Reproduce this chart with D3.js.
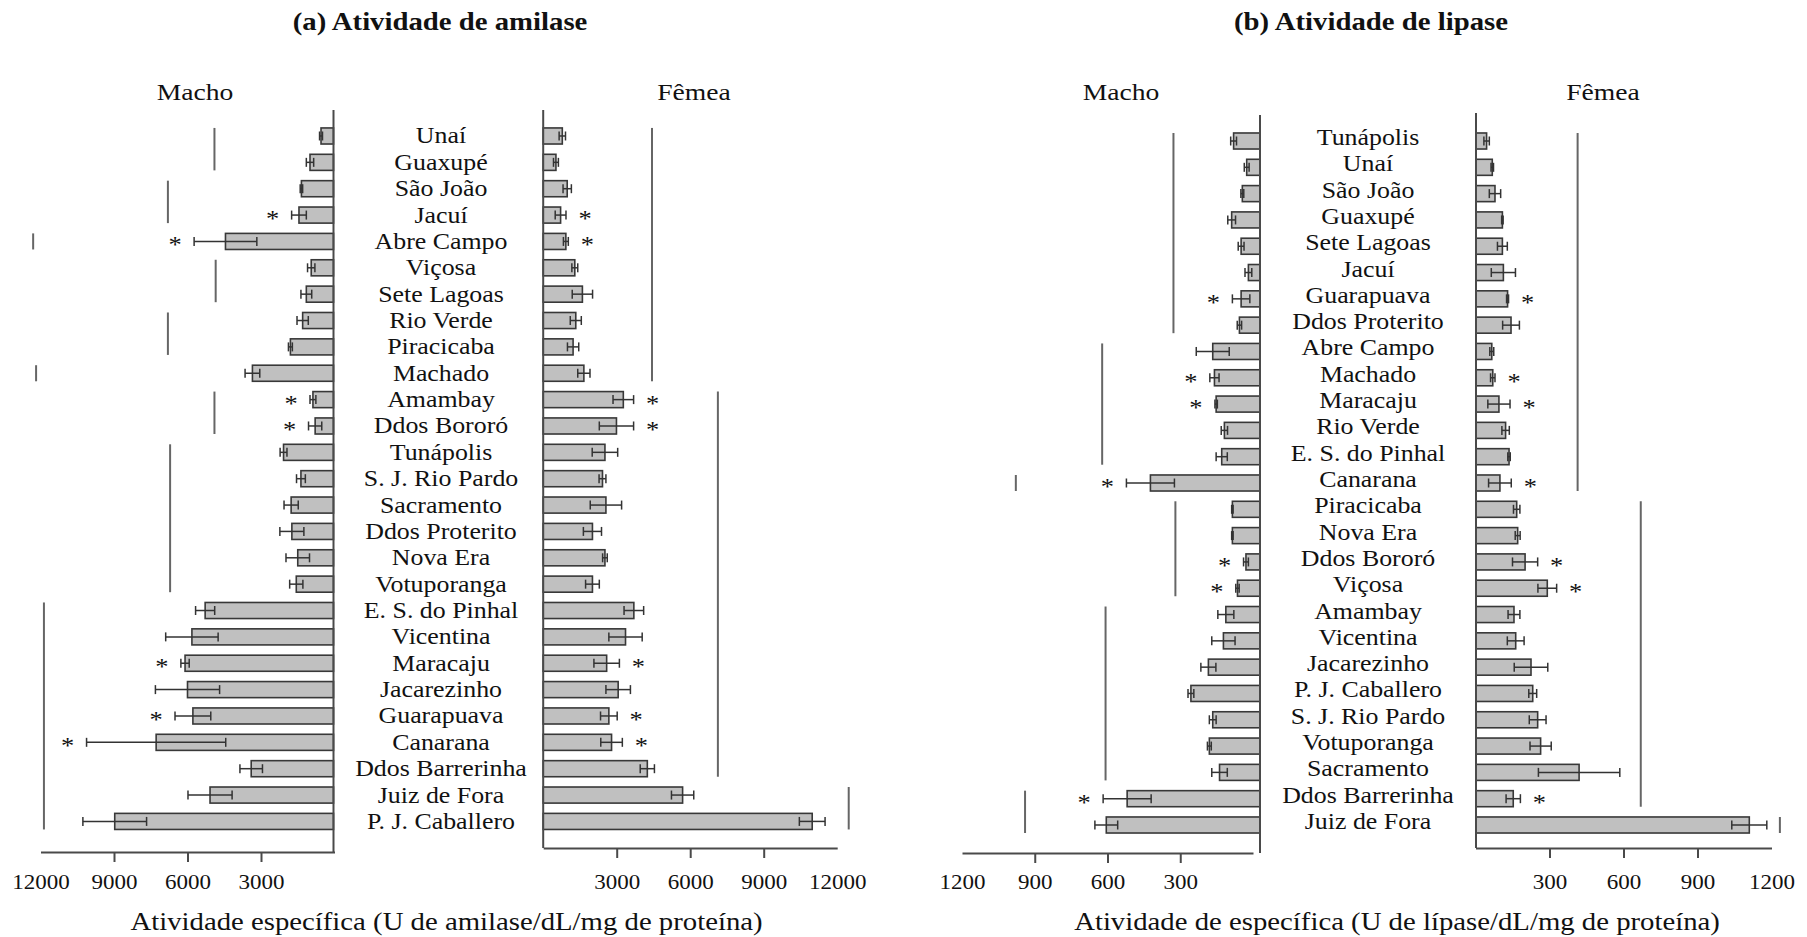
<!DOCTYPE html>
<html>
<head>
<meta charset="utf-8">
<script src="https://cdn.jsdelivr.net/npm/d3@7"></script>
<style>
  html, body { margin: 0; padding: 0; background: #fff; }
  svg { display: block; }
</style>
</head>
<body>
<svg id="chart" width="1807" height="937"></svg>
<script>
// ---------------- DATA ----------------
const amyCats = ["Unaí","Guaxupé","São João","Jacuí","Abre Campo","Viçosa","Sete Lagoas","Rio Verde","Piracicaba","Machado","Amambay","Ddos Bororó","Tunápolis","S. J. Rio Pardo","Sacramento","Ddos Proterito","Nova Era","Votuporanga","E. S. do Pinhal","Vicentina","Maracaju","Jacarezinho","Guarapuava","Canarana","Ddos Barrerinha","Juiz de Fora","P. J. Caballero"];
const amyMale    = [550,1000,1350,1450,4450,950,1150,1300,1800,3350,880,790,2080,1370,1770,1740,1500,1560,5280,5820,6100,6000,5780,7280,3400,5080,8970];
const amyMaleErr = [60,150,50,300,1280,150,220,230,80,300,120,270,140,180,290,490,480,270,390,1070,170,1310,730,2840,460,900,1300];
const amyFemale    = [780,520,980,710,925,1290,1600,1330,1220,1660,3270,2990,2520,2420,2560,2010,2520,2010,3700,3360,2590,3060,2680,2790,4250,5690,10980];
const amyFemaleErr = [130,100,170,220,100,120,415,225,230,250,420,700,520,140,640,370,95,280,400,680,520,500,340,440,290,455,525];
const amySigMale   = ["Jacuí","Abre Campo","Amambay","Ddos Bororó","Maracaju","Guarapuava","Canarana"];
const amySigFemale = ["Jacuí","Abre Campo","Amambay","Ddos Bororó","Maracaju","Guarapuava","Canarana"];
// groups: [first category, last category, value where the group line sits]
const amyGroupsMale = [["Unaí","Guaxupé",4900],["São João","Jacuí",6800],["Abre Campo","Abre Campo",12300],["Viçosa","Sete Lagoas",4850],["Rio Verde","Piracicaba",6800],["Machado","Machado",12180],["Amambay","Ddos Bororó",4900],["Tunápolis","Votuporanga",6710],["E. S. do Pinhal","P. J. Caballero",11860]];
const amyGroupsFemale = [["Unaí","Machado",4440],["Amambay","Ddos Barrerinha",7130],["Juiz de Fora","P. J. Caballero",12470]];
const amyTicks = [3000,6000,9000,12000];

const lipCats = ["Tunápolis","Unaí","São João","Guaxupé","Sete Lagoas","Jacuí","Guarapuava","Ddos Proterito","Abre Campo","Machado","Maracaju","Rio Verde","E. S. do Pinhal","Canarana","Piracicaba","Nova Era","Ddos Bororó","Viçosa","Amambay","Vicentina","Jacarezinho","P. J. Caballero","S. J. Rio Pardo","Votuporanga","Sacramento","Ddos Barrerinha","Juiz de Fora"];
const lipMale    = [80,26,44,88,49,19,49,56,166,159,152,118,129,423,85,85,29,64,112,122,184,256,166,180,138,519,605];
const lipMaleErr = [12,10,6,16,12,14,36,9,68,19,5,13,23,99,3,3,10,7,33,48,31,12,14,8,32,99,47];
const lipFemale    = [45,68,79,109,109,113,130,144,66,70,95,122,136,99,167,171,201,291,156,163,225,232,252,264,420,153,1110];
const lipFemaleErr = [11,5,23,3,20,49,4,34,8,9,45,15,5,46,13,10,51,38,24,34,68,16,34,43,165,29,71];
const lipSigMale   = ["Guarapuava","Machado","Maracaju","Canarana","Ddos Bororó","Viçosa","Ddos Barrerinha"];
const lipSigFemale = ["Guarapuava","Machado","Maracaju","Canarana","Ddos Bororó","Viçosa","Ddos Barrerinha"];
const lipGroupsMale = [["Tunápolis","Ddos Proterito",328],["Abre Campo","E. S. do Pinhal",622],["Canarana","Canarana",978],["Piracicaba","Viçosa",320],["Amambay","Sacramento",608],["Ddos Barrerinha","Juiz de Fora",940]];
const lipGroupsFemale = [["Tunápolis","Canarana",414],["Piracicaba","Ddos Barrerinha",670],["Juiz de Fora","Juiz de Fora",1234]];
const lipTicks = [300,600,900,1200];

// ---------------- DRAWING ----------------
const svg = d3.select("#chart");
const FONT = "'Liberation Serif','Times New Roman',Times,serif";
const SX = 1.15; // horizontal stretch of the original figure

function addText(x, y, str, size, weight) {
  svg.append("text")
    .attr("transform", `translate(${x},${y}) scale(${SX},1)`)
    .attr("text-anchor", "middle")
    .attr("font-family", FONT)
    .attr("font-size", size)
    .attr("font-weight", weight || "normal")
    .attr("fill", "#111")
    .text(str);
}

function drawSide(cfg) {
  const { cats, vals, errs, sig, groups, x, y, dir, baseX, axisY, axisTop, ticks, lastNoTick } = cfg;
  const g = svg.append("g");
  const bw = y.bandwidth();

  // group lines
  g.selectAll("line.grp").data(groups).join("line")
    .attr("x1", d => x(d[2])).attr("x2", d => x(d[2]))
    .attr("y1", d => y(d[0])).attr("y2", d => y(d[1]) + bw)
    .attr("stroke", "#666").attr("stroke-width", 2);

  // bars
  const data = cats.map((c, i) => ({ c, v: vals[i], e: errs[i] }));
  g.selectAll("rect.bar").data(data).join("rect")
    .attr("x", d => Math.min(baseX, x(d.v)))
    .attr("width", d => Math.abs(baseX - x(d.v)))
    .attr("y", d => y(d.c))
    .attr("height", bw)
    .attr("fill", "#c0c0c0")
    .attr("stroke", "#383838")
    .attr("stroke-width", 1.6);

  // error bars
  const eg = g.selectAll("g.err").data(data).join("g")
    .attr("stroke", "#333").attr("stroke-width", 1.5);
  eg.append("line")
    .attr("x1", d => x(d.v - d.e)).attr("x2", d => x(d.v + d.e))
    .attr("y1", d => y(d.c) + bw / 2).attr("y2", d => y(d.c) + bw / 2);
  eg.append("line")
    .attr("x1", d => x(d.v - d.e)).attr("x2", d => x(d.v - d.e))
    .attr("y1", d => y(d.c) + bw / 2 - 4.5).attr("y2", d => y(d.c) + bw / 2 + 4.5);
  eg.append("line")
    .attr("x1", d => x(d.v + d.e)).attr("x2", d => x(d.v + d.e))
    .attr("y1", d => y(d.c) + bw / 2 - 4.5).attr("y2", d => y(d.c) + bw / 2 + 4.5);

  // significance stars
  data.filter(d => sig.includes(d.c)).forEach(d => {
    addText(x(d.v + d.e) + dir * 19, y(d.c) + bw / 2 + 11, "*", 23);
  });

  // vertical axis line
  g.append("line")
    .attr("x1", baseX).attr("x2", baseX)
    .attr("y1", axisTop).attr("y2", axisY)
    .attr("stroke", "#4a4a4a").attr("stroke-width", 2);

  // horizontal axis
  const ax = svg.append("g").attr("transform", `translate(0,${axisY})`)
    .call(d3.axisBottom(x).tickValues(ticks).tickSize(10).tickSizeOuter(0).tickFormat(d3.format("d")));
  ax.select(".domain").attr("stroke", "#4a4a4a").attr("stroke-width", 2);
  ax.selectAll(".tick line").attr("stroke", "#4a4a4a").attr("stroke-width", 2)
    .filter(d => d === lastNoTick).remove();
  ax.selectAll(".tick text")
    .attr("y", 889 - axisY).attr("dy", 0)
    .attr("transform", `scale(${SX},1)`)
    .attr("font-family", FONT).attr("font-size", 20).attr("fill", "#111");
}

// ---- panel (a) amylase ----
const amyY = d3.scaleBand().domain(amyCats).range([122.8, 834.6]).paddingInner(0.39).paddingOuter(0.195);
const amyXM = d3.scaleLinear().domain([0, 12000]).range([334.5, 40.5]);
const amyXF = d3.scaleLinear().domain([0, 12000]).range([543.2, 837.2]);

drawSide({ cats: amyCats, vals: amyMale, errs: amyMaleErr, sig: amySigMale, groups: amyGroupsMale,
  x: amyXM, y: amyY, dir: -1, baseX: 333.5, axisY: 852, axisTop: 110, ticks: amyTicks, lastNoTick: 12000 });
drawSide({ cats: amyCats, vals: amyFemale, errs: amyFemaleErr, sig: amySigFemale, groups: amyGroupsFemale,
  x: amyXF, y: amyY, dir: 1, baseX: 543.2, axisY: 848, axisTop: 110, ticks: amyTicks, lastNoTick: 12000 });

amyCats.forEach(c => addText(441, amyY(c) + amyY.bandwidth() / 2 + 7.5, c, 22.5));
addText(440, 30, "(a) Atividade de amilase", 25, "bold");
addText(195, 100, "Macho", 24);
addText(694, 100, "Fêmea", 24);
addText(446.5, 930, "Atividade específica (U de amilase/dL/mg de proteína)", 25);

// ---- panel (b) lipase ----
const lipY = d3.scaleBand().domain(lipCats).range([127.85, 838.15]).paddingInner(0.39).paddingOuter(0.195);
const lipXM = d3.scaleLinear().domain([0, 1200]).range([1253, 962]);
const lipXF = d3.scaleLinear().domain([0, 1200]).range([1475.5, 1771.5]);

drawSide({ cats: lipCats, vals: lipMale, errs: lipMaleErr, sig: lipSigMale, groups: lipGroupsMale,
  x: lipXM, y: lipY, dir: -1, baseX: 1260, axisY: 853, axisTop: 115, ticks: lipTicks, lastNoTick: 1200 });
drawSide({ cats: lipCats, vals: lipFemale, errs: lipFemaleErr, sig: lipSigFemale, groups: lipGroupsFemale,
  x: lipXF, y: lipY, dir: 1, baseX: 1476, axisY: 848, axisTop: 113, ticks: lipTicks, lastNoTick: 1200 });

lipCats.forEach(c => addText(1368, lipY(c) + lipY.bandwidth() / 2 + 4, c, 22.5));
addText(1371, 30, "(b) Atividade de lipase", 25, "bold");
addText(1121, 100, "Macho", 24);
addText(1603, 100, "Fêmea", 24);
addText(1397, 930, "Atividade de específica (U de lípase/dL/mg de proteína)", 25);
</script>
</body>
</html>
